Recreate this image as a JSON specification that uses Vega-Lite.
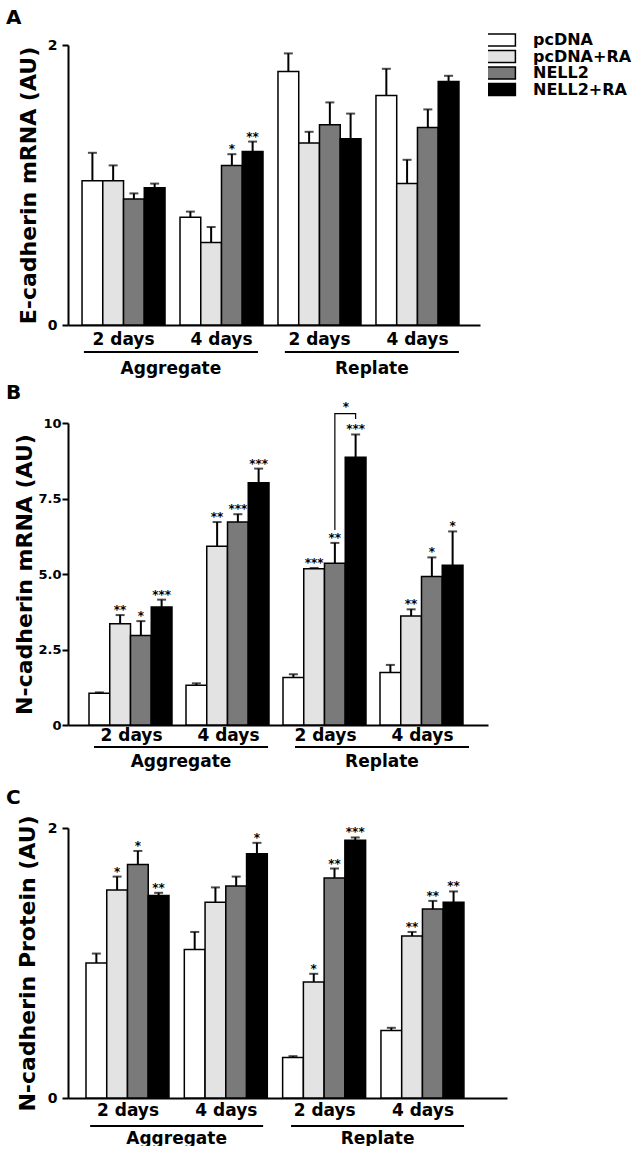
{
  "$schema": "https://vega.github.io/schema/vega-lite/v6.json",
  "padding": {"left": 6, "top": 8, "right": 0, "bottom": 0},
  "background": "white",
  "config": {
    "font": "DejaVu Sans",
    "view": {"stroke": null},
    "axis": {"domainColor": "black", "domainWidth": 2, "tickColor": "black", "tickWidth": 2, "tickSize": 6, "labelColor": "black", "labelFontWeight": "bold", "labelFontSize": 14, "titleColor": "black", "titleFontWeight": "bold", "titleFontSize": 22, "grid": false, "labelPadding": 4, "titlePadding": 5},
    "title": {"fontSize": 20, "fontWeight": "bold", "anchor": "start", "frame": "group", "color": "black"},
    "legend": {"title": null, "labelFontSize": 16, "labelFontWeight": "bold", "labelColor": "black", "symbolType": "M-1.2,-0.5H1.2V0.5H-1.2Z", "symbolSize": 576, "symbolStrokeColor": "black", "symbolStrokeWidth": 1.5, "rowPadding": 0.5, "clipHeight": 16, "labelOffset": 19, "padding": 0}
  },
  "datasets": {
    "A": [
      {"group": "Aggregate 2 days", "treatment": "pcDNA", "mean": 1.03, "upper": 1.23, "sig": ""},
      {"group": "Aggregate 2 days", "treatment": "pcDNA+RA", "mean": 1.03, "upper": 1.14, "sig": ""},
      {"group": "Aggregate 2 days", "treatment": "NELL2", "mean": 0.90, "upper": 0.94, "sig": ""},
      {"group": "Aggregate 2 days", "treatment": "NELL2+RA", "mean": 0.98, "upper": 1.01, "sig": ""},
      {"group": "Aggregate 4 days", "treatment": "pcDNA", "mean": 0.77, "upper": 0.81, "sig": ""},
      {"group": "Aggregate 4 days", "treatment": "pcDNA+RA", "mean": 0.59, "upper": 0.70, "sig": ""},
      {"group": "Aggregate 4 days", "treatment": "NELL2", "mean": 1.14, "upper": 1.22, "sig": "*"},
      {"group": "Aggregate 4 days", "treatment": "NELL2+RA", "mean": 1.24, "upper": 1.31, "sig": "**"},
      {"group": "Replate 2 days", "treatment": "pcDNA", "mean": 1.81, "upper": 1.94, "sig": ""},
      {"group": "Replate 2 days", "treatment": "pcDNA+RA", "mean": 1.30, "upper": 1.38, "sig": ""},
      {"group": "Replate 2 days", "treatment": "NELL2", "mean": 1.43, "upper": 1.59, "sig": ""},
      {"group": "Replate 2 days", "treatment": "NELL2+RA", "mean": 1.33, "upper": 1.51, "sig": ""},
      {"group": "Replate 4 days", "treatment": "pcDNA", "mean": 1.64, "upper": 1.83, "sig": ""},
      {"group": "Replate 4 days", "treatment": "pcDNA+RA", "mean": 1.01, "upper": 1.18, "sig": ""},
      {"group": "Replate 4 days", "treatment": "NELL2", "mean": 1.41, "upper": 1.54, "sig": ""},
      {"group": "Replate 4 days", "treatment": "NELL2+RA", "mean": 1.74, "upper": 1.78, "sig": ""}
    ],
    "B": [
      {"group": "Aggregate 2 days", "treatment": "pcDNA", "mean": 1.05, "upper": 1.08, "sig": ""},
      {"group": "Aggregate 2 days", "treatment": "pcDNA+RA", "mean": 3.35, "upper": 3.64, "sig": "**"},
      {"group": "Aggregate 2 days", "treatment": "NELL2", "mean": 2.96, "upper": 3.44, "sig": "*"},
      {"group": "Aggregate 2 days", "treatment": "NELL2+RA", "mean": 3.91, "upper": 4.15, "sig": "***"},
      {"group": "Aggregate 4 days", "treatment": "pcDNA", "mean": 1.32, "upper": 1.38, "sig": ""},
      {"group": "Aggregate 4 days", "treatment": "pcDNA+RA", "mean": 5.92, "upper": 6.72, "sig": "**"},
      {"group": "Aggregate 4 days", "treatment": "NELL2", "mean": 6.72, "upper": 6.98, "sig": "***"},
      {"group": "Aggregate 4 days", "treatment": "NELL2+RA", "mean": 8.02, "upper": 8.49, "sig": "***"},
      {"group": "Replate 2 days", "treatment": "pcDNA", "mean": 1.57, "upper": 1.68, "sig": ""},
      {"group": "Replate 2 days", "treatment": "pcDNA+RA", "mean": 5.17, "upper": 5.20, "sig": "***"},
      {"group": "Replate 2 days", "treatment": "NELL2", "mean": 5.36, "upper": 6.03, "sig": "**"},
      {"group": "Replate 2 days", "treatment": "NELL2+RA", "mean": 8.87, "upper": 9.62, "sig": "***"},
      {"group": "Replate 4 days", "treatment": "pcDNA", "mean": 1.74, "upper": 1.99, "sig": ""},
      {"group": "Replate 4 days", "treatment": "pcDNA+RA", "mean": 3.61, "upper": 3.83, "sig": "**"},
      {"group": "Replate 4 days", "treatment": "NELL2", "mean": 4.92, "upper": 5.55, "sig": "*"},
      {"group": "Replate 4 days", "treatment": "NELL2+RA", "mean": 5.29, "upper": 6.41, "sig": "*"}
    ],
    "C": [
      {"group": "Aggregate 2 days", "treatment": "pcDNA", "mean": 1.00, "upper": 1.07, "sig": ""},
      {"group": "Aggregate 2 days", "treatment": "pcDNA+RA", "mean": 1.54, "upper": 1.64, "sig": "*"},
      {"group": "Aggregate 2 days", "treatment": "NELL2", "mean": 1.73, "upper": 1.83, "sig": "*"},
      {"group": "Aggregate 2 days", "treatment": "NELL2+RA", "mean": 1.50, "upper": 1.52, "sig": "**"},
      {"group": "Aggregate 4 days", "treatment": "pcDNA", "mean": 1.10, "upper": 1.23, "sig": ""},
      {"group": "Aggregate 4 days", "treatment": "pcDNA+RA", "mean": 1.45, "upper": 1.56, "sig": ""},
      {"group": "Aggregate 4 days", "treatment": "NELL2", "mean": 1.57, "upper": 1.64, "sig": ""},
      {"group": "Aggregate 4 days", "treatment": "NELL2+RA", "mean": 1.81, "upper": 1.89, "sig": "*"},
      {"group": "Replate 2 days", "treatment": "pcDNA", "mean": 0.30, "upper": 0.31, "sig": ""},
      {"group": "Replate 2 days", "treatment": "pcDNA+RA", "mean": 0.86, "upper": 0.92, "sig": "*"},
      {"group": "Replate 2 days", "treatment": "NELL2", "mean": 1.63, "upper": 1.70, "sig": "**"},
      {"group": "Replate 2 days", "treatment": "NELL2+RA", "mean": 1.91, "upper": 1.93, "sig": "***"},
      {"group": "Replate 4 days", "treatment": "pcDNA", "mean": 0.50, "upper": 0.52, "sig": ""},
      {"group": "Replate 4 days", "treatment": "pcDNA+RA", "mean": 1.20, "upper": 1.23, "sig": "**"},
      {"group": "Replate 4 days", "treatment": "NELL2", "mean": 1.40, "upper": 1.46, "sig": "**"},
      {"group": "Replate 4 days", "treatment": "NELL2+RA", "mean": 1.45, "upper": 1.53, "sig": "**"}
    ],
    "bracket": [
      {"group": "Replate 2 days", "treatment": "NELL2", "y": 6.46, "o": 1},
      {"group": "Replate 2 days", "treatment": "NELL2", "y": 10.31, "o": 2},
      {"group": "Replate 2 days", "treatment": "NELL2+RA", "y": 10.31, "o": 3},
      {"group": "Replate 2 days", "treatment": "NELL2+RA", "y": 10.13, "o": 4}
    ],
    "bracketStar": [
      {"group": "Replate 2 days", "treatment": "NELL2", "y": 10.31, "label": "*"}
    ],
    "conds": [{"cond": "Aggregate"}, {"cond": "Replate"}]
  },
  "columns": 1,
  "align": "none",
  "spacing": 18,
  "concat": [
    {
      "columns": 1,
      "align": "none",
      "spacing": 6,
      "concat": [
        {
          "bounds": "flush",
          "spacing": 26,
          "vconcat": [
            {
              "width": 412, "height": 280,
              "title": {"text": "A", "dx": -62, "offset": 10},
              "data": {"name": "A"},
              "encoding": {
                "x": {"field": "group", "type": "nominal", "sort": null,
                      "scale": {"domain": ["Aggregate 2 days", "Aggregate 4 days", "Replate 2 days", "Replate 4 days"], "paddingInner": 0.153, "paddingOuter": 0.179, "align": 0.4},
                      "axis": {"title": null, "ticks": false, "labelAngle": 0, "labelFontSize": 17, "labelPadding": 6, "labelExpr": "substring(datum.label, indexof(datum.label, ' ') + 1)"}},
                "xOffset": {"field": "treatment", "type": "nominal", "sort": null, "scale": {"domain": ["pcDNA", "pcDNA+RA", "NELL2", "NELL2+RA"], "paddingInner": 0, "paddingOuter": 0}}
              },
              "layer": [
                {"mark": {"type": "bar", "stroke": "black", "strokeWidth": 1.5},
                 "encoding": {
                   "y": {"field": "mean", "type": "quantitative", "scale": {"domain": [0, 2], "nice": false}, "axis": {"title": "E-cadherin mRNA (AU)", "values": [0, 1, 2], "format": "d", "labelPadding": 5, "titlePadding": 7}},
                   "fill": {"field": "treatment", "type": "nominal", "sort": null, "scale": {"domain": ["pcDNA", "pcDNA+RA", "NELL2", "NELL2+RA"], "range": ["#ffffff", "#e3e3e3", "#7a7a7a", "#000000"]}, "legend": {"orient": "none", "legendX": 420, "legendY": -13}}
                 }},
                {"mark": {"type": "rule", "strokeWidth": 2, "color": "black"}, "encoding": {"y": {"field": "mean", "type": "quantitative"}, "y2": {"field": "upper"}}},
                {"mark": {"type": "tick", "thickness": 2, "size": 9, "color": "black"}, "encoding": {"y": {"field": "upper", "type": "quantitative"}}},
                {"mark": {"type": "text", "fontSize": 12, "fontWeight": "bold", "baseline": "alphabetic", "dy": -1, "color": "black"}, "encoding": {"y": {"field": "upper", "type": "quantitative"}, "text": {"field": "sig"}}}
              ]
            },
            {
              "width": 412, "height": 2,
              "data": {"name": "conds"},
              "mark": {"type": "bar", "color": "black"},
              "encoding": {"x": {"field": "cond", "type": "nominal", "sort": null, "scale": {"paddingInner": 0.134, "paddingOuter": 0.092, "align": 0.43}, "axis": {"title": null, "domain": false, "ticks": false, "labelAngle": 0, "labelFontSize": 17, "labelPadding": 7}}}
            }
          ]
        },
        {
          "bounds": "flush",
          "spacing": 21,
          "vconcat": [
            {
              "width": 420, "height": 302,
              "title": {"text": "B", "dx": -62, "offset": -2},
              "encoding": {
                "x": {"field": "group", "type": "nominal", "sort": null,
                      "scale": {"domain": ["Aggregate 2 days", "Aggregate 4 days", "Replate 2 days", "Replate 4 days"], "paddingInner": 0.124, "paddingOuter": 0.227, "align": 0.477},
                      "axis": {"title": null, "ticks": false, "labelAngle": 0, "labelFontSize": 17, "labelPadding": 2, "labelExpr": "substring(datum.label, indexof(datum.label, ' ') + 1)"}},
                "xOffset": {"field": "treatment", "type": "nominal", "sort": null, "scale": {"domain": ["pcDNA", "pcDNA+RA", "NELL2", "NELL2+RA"], "paddingInner": 0, "paddingOuter": 0}}
              },
              "layer": [
                {"data": {"name": "B"}, "mark": {"type": "bar", "stroke": "black", "strokeWidth": 1.5},
                 "encoding": {
                   "y": {"field": "mean", "type": "quantitative", "scale": {"domain": [0, 10], "nice": false}, "axis": {"title": "N-cadherin mRNA (AU)", "values": [0, 2.5, 5, 7.5, 10], "labelFontSize": 13, "labelExpr": "datum.value == 0 ? '0' : datum.value == 10 ? '10' : format(datum.value, '.1f')", "labelPadding": 1, "titlePadding": 1}},
                   "fill": {"field": "treatment", "type": "nominal", "sort": null, "scale": {"domain": ["pcDNA", "pcDNA+RA", "NELL2", "NELL2+RA"], "range": ["#ffffff", "#e3e3e3", "#7a7a7a", "#000000"]}, "legend": {"orient": "none", "legendX": 420, "legendY": -13}}
                 }},
                {"data": {"name": "B"}, "mark": {"type": "rule", "strokeWidth": 2, "color": "black"}, "encoding": {"y": {"field": "mean", "type": "quantitative"}, "y2": {"field": "upper"}}},
                {"data": {"name": "B"}, "mark": {"type": "tick", "thickness": 2, "size": 9, "color": "black"}, "encoding": {"y": {"field": "upper", "type": "quantitative"}}},
                {"data": {"name": "B"}, "mark": {"type": "text", "fontSize": 12, "fontWeight": "bold", "baseline": "alphabetic", "dy": -1, "color": "black"}, "encoding": {"y": {"field": "upper", "type": "quantitative"}, "text": {"field": "sig"}}},
                {"data": {"name": "bracket"}, "mark": {"type": "line", "strokeWidth": 1.2, "color": "black"}, "encoding": {"y": {"field": "y", "type": "quantitative"}, "order": {"field": "o"}}},
                {"data": {"name": "bracketStar"}, "mark": {"type": "text", "fontSize": 12, "fontWeight": "bold", "baseline": "alphabetic", "dx": 11, "dy": -3, "color": "black"}, "encoding": {"y": {"field": "y", "type": "quantitative"}, "text": {"field": "label"}}}
              ]
            },
            {
              "width": 420, "height": 2,
              "data": {"name": "conds"},
              "mark": {"type": "bar", "color": "black"},
              "encoding": {"x": {"field": "cond", "type": "nominal", "sort": null, "scale": {"paddingInner": 0.134, "paddingOuter": 0.112, "align": 0.578}, "axis": {"title": null, "domain": false, "ticks": false, "labelAngle": 0, "labelFontSize": 17, "labelPadding": 5}}}
            }
          ]
        }
      ]
    },
    {
      "bounds": "flush",
      "spacing": 27,
      "vconcat": [
        {
          "width": 439, "height": 270,
          "title": {"text": "C", "dx": -62, "offset": 7},
          "data": {"name": "C"},
          "encoding": {
            "x": {"field": "group", "type": "nominal", "sort": null,
                  "scale": {"domain": ["Aggregate 2 days", "Aggregate 4 days", "Replate 2 days", "Replate 4 days"], "paddingInner": 0.145, "paddingOuter": 0.305, "align": 0.3},
                  "axis": {"title": null, "ticks": false, "labelAngle": 0, "labelFontSize": 17, "labelPadding": 4, "labelExpr": "substring(datum.label, indexof(datum.label, ' ') + 1)"}},
            "xOffset": {"field": "treatment", "type": "nominal", "sort": null, "scale": {"domain": ["pcDNA", "pcDNA+RA", "NELL2", "NELL2+RA"], "paddingInner": 0, "paddingOuter": 0}}
          },
          "layer": [
            {"mark": {"type": "bar", "stroke": "black", "strokeWidth": 1.5},
             "encoding": {
               "y": {"field": "mean", "type": "quantitative", "scale": {"domain": [0, 2], "nice": false}, "axis": {"title": "N-cadherin Protein (AU)", "values": [0, 1, 2], "format": "d", "labelPadding": 5, "titlePadding": 8}},
               "fill": {"field": "treatment", "type": "nominal", "sort": null, "scale": {"domain": ["pcDNA", "pcDNA+RA", "NELL2", "NELL2+RA"], "range": ["#ffffff", "#e3e3e3", "#7a7a7a", "#000000"]}, "legend": {"orient": "none", "legendX": 420, "legendY": -13}}
             }},
            {"mark": {"type": "rule", "strokeWidth": 2, "color": "black"}, "encoding": {"y": {"field": "mean", "type": "quantitative"}, "y2": {"field": "upper"}}},
            {"mark": {"type": "tick", "thickness": 2, "size": 9, "color": "black"}, "encoding": {"y": {"field": "upper", "type": "quantitative"}}},
            {"mark": {"type": "text", "fontSize": 12, "fontWeight": "bold", "baseline": "alphabetic", "dy": -1, "color": "black"}, "encoding": {"y": {"field": "upper", "type": "quantitative"}, "text": {"field": "sig"}}}
          ]
        },
        {
          "width": 439, "height": 2,
          "data": {"name": "conds"},
          "mark": {"type": "bar", "color": "black"},
          "encoding": {"x": {"field": "cond", "type": "nominal", "sort": null, "scale": {"paddingInner": 0.139, "paddingOuter": 0.162, "align": 0.34}, "axis": {"title": null, "domain": false, "ticks": false, "labelAngle": 0, "labelFontSize": 17, "labelPadding": 3}}}
        }
      ]
    }
  ]
}
